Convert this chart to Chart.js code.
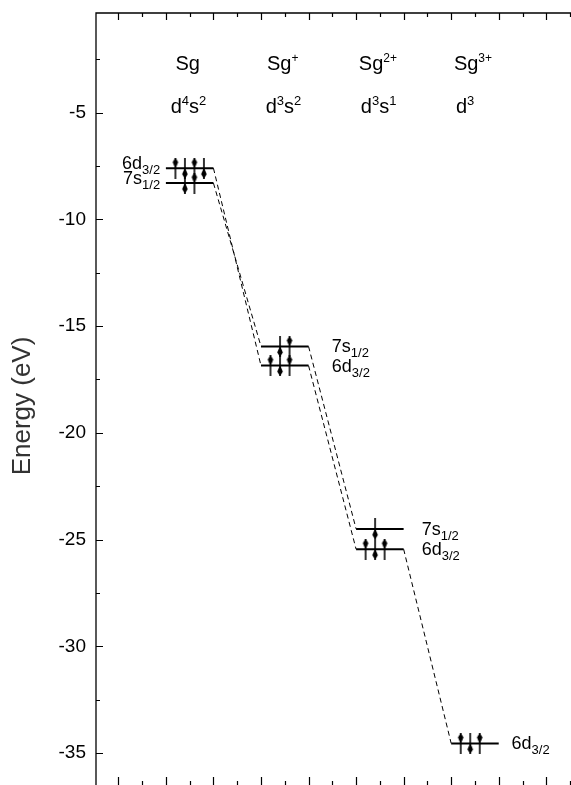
<!DOCTYPE html>
<html><head><meta charset="utf-8">
<script src="https://cdn.jsdelivr.net/npm/chart.js@4/dist/chart.umd.min.js"></script>
<style>html,body{margin:0;padding:0;background:#fff;}canvas{display:block;}</style>
</head><body>
<canvas id="c" width="571" height="785"></canvas>
<script>
// ---------------- data ----------------
const ionNames = ['Sg', 'Sg', 'Sg', 'Sg'];
const ionCharges = ['', '+', '2+', '3+'];
const configD = ['4', '3', '3', '3'];
const configS = ['2', '2', '1', ''];
const columnX = [2, 4, 6, 8];                 // left end of each column's levels
const energy6d = [-7.6, -16.85, -25.45, -34.55];
const energy7s = [-8.3, -15.95, -24.5, null];
const electronColumn  = [0, 0, 0, 0, 0, 0, 1, 1, 1, 1, 1, 2, 2, 2, 2, 3, 3, 3];
const electronOrbital = ['6d','6d','6d','6d','7s','7s','7s','7s','6d','6d','6d','7s','6d','6d','6d','6d','6d','6d'];
const electronSlot    = [1, 2, 3, 4, 2, 3, 2, 3, 1, 2, 3, 2, 1, 2, 3, 1, 2, 3];
const electronSpin    = ['up','down','up','down','down','up','down','up','up','down','up','down','up','down','up','up','down','up'];
const yTickLabelsEvery = 5;     // labelled ticks
const yTickStep = 2.5;          // all ticks
const yAxisTitle = 'Energy (eV)';

// ---------------- layout / style ----------------
const FONT = "'Liberation Sans', Arial, sans-serif";
const X_MIN = 0.53, X_MAX = 10.52;
const Y_MIN = -36.5, Y_MAX = -0.33;
const LEVEL_W = 1;
const SLOT = 0.2;
const labelAnchors = [
  {x: 1.88, align: 'right', dy: -5},
  {x: 5.49, align: 'left', dy: 0},
  {x: 7.38, align: 'left', dy: 0},
  {x: 9.27, align: 'left', dy: 0}
];
const NAME_ROW = -3.0, CONFIG_ROW = -5.0;

function orbitalEnergy(col, orb) { return orb === '6d' ? energy6d[col] : energy7s[col]; }

function makeArrow(up) {
  const c = document.createElement('canvas');
  c.width = 8; c.height = 21;
  const g = c.getContext('2d');
  g.fillStyle = '#000';
  g.fillRect(3.2, 0, 1.6, 21);
  g.beginPath();
  if (up) { g.moveTo(4, 0); g.lineTo(6.8, 4.5); g.lineTo(4, 11); g.lineTo(1.2, 4.5); }
  else { g.moveTo(4, 21); g.lineTo(6.8, 16.5); g.lineTo(4, 10); g.lineTo(1.2, 16.5); }
  g.closePath(); g.fill();
  return c;
}
const arrowUp = makeArrow(true), arrowDown = makeArrow(false);

// ---------------- datasets ----------------
const datasets = [];
// electrons
datasets.push({
  label: 'electrons', order: 0,
  data: electronColumn.map((c, i) => ({x: columnX[c] + electronSlot[i] * SLOT, y: orbitalEnergy(c, electronOrbital[i])})),
  pointStyle: electronSpin.map(s => s === 'up' ? arrowUp : arrowDown),
  pointRadius: 3, showLine: false
});
// levels
[energy6d, energy7s].forEach(arr => {
  arr.forEach((e, c) => {
    if (e === null) return;
    datasets.push({order: 1, data: [{x: columnX[c], y: e}, {x: columnX[c] + LEVEL_W, y: e}],
      showLine: true, borderColor: '#000', borderWidth: 2, pointRadius: 0, borderCapStyle: 'butt'});
  });
});
// dashed connectors
[energy6d, energy7s].forEach(arr => {
  for (let c = 0; c < arr.length - 1; c++) {
    if (arr[c] === null || arr[c + 1] === null) continue;
    datasets.push({order: 2, data: [{x: columnX[c] + LEVEL_W, y: arr[c]}, {x: columnX[c + 1], y: arr[c + 1]}],
      showLine: true, borderColor: '#000', borderWidth: 1, borderDash: [5, 3.5], pointRadius: 0});
  }
});

// ---------------- plugins ----------------
function drawRich(ctx, parts, x, y, align, F, f, supDy, subDy) {
  let total = 0;
  parts.forEach(p => {
    ctx.font = (p.s ? f : F) + 'px ' + FONT;
    p.w = ctx.measureText(p.t).width; total += p.w;
  });
  let cx = align === 'center' ? x - total / 2 : align === 'right' ? x - total : x;
  ctx.textAlign = 'left'; ctx.textBaseline = 'alphabetic';
  parts.forEach(p => {
    ctx.font = (p.s ? f : F) + 'px ' + FONT;
    const dy = p.s === 1 ? supDy : p.s === -1 ? subDy : 0;
    ctx.fillText(p.t, cx, y + dy);
    cx += p.w;
  });
}

const framePlugin = {
  id: 'frame',
  beforeDatasetsDraw(chart) {
    const {ctx, chartArea: a, scales: {x, y}} = chart;
    ctx.save();
    ctx.strokeStyle = '#000'; ctx.lineWidth = 1.3;
    ctx.beginPath();
    ctx.moveTo(a.left, a.bottom); ctx.lineTo(a.left, a.top); ctx.lineTo(a.right, a.top);
    ctx.stroke();
    ctx.lineWidth = 1.2;
    ctx.beginPath();
    for (let v = Math.ceil(Y_MIN / yTickStep) * yTickStep; v <= Y_MAX; v += yTickStep) {
      const py = Math.round(y.getPixelForValue(v)) + 0.5;
      const major = Math.abs(v % yTickLabelsEvery) < 1e-6;
      ctx.moveTo(a.left, py); ctx.lineTo(a.left + (major ? 7 : 4), py);
    }
    for (let v = Math.ceil(X_MIN * 2) / 2; v <= X_MAX; v += 0.5) {
      const px = Math.round(x.getPixelForValue(v)) + 0.5;
      const major = Math.abs(v % 1) < 1e-6;
      ctx.moveTo(px, a.top); ctx.lineTo(px, a.top + (major ? 7 : 4));
      ctx.moveTo(px, a.bottom); ctx.lineTo(px, a.bottom - (major ? 8 : 4));
    }
    ctx.stroke();
    // axis title
    ctx.save();
    ctx.translate(30, 406);
    ctx.rotate(-Math.PI / 2);
    ctx.font = '26px ' + FONT;
    ctx.fillStyle = '#333';
    ctx.textAlign = 'center'; ctx.textBaseline = 'alphabetic';
    ctx.fillText(yAxisTitle, 0, 0);
    ctx.restore();
    ctx.restore();
  },
  afterDatasetsDraw(chart) {
    const {ctx, scales: {x, y}} = chart;
    ctx.save();
    ctx.fillStyle = '#000';
    // headers
    ionNames.forEach((n, c) => {
      const cxp = x.getPixelForValue(columnX[c] + LEVEL_W / 2) - 2;
      const parts = [{t: n, s: 0}];
      if (ionCharges[c]) parts.push({t: ionCharges[c], s: 1});
      drawRich(ctx, parts, cxp, y.getPixelForValue(NAME_ROW), 'center', 20, 12, -8, 4);
      const cp = [{t: 'd', s: 0}, {t: configD[c], s: 1}];
      if (configS[c]) { cp.push({t: 's', s: 0}); cp.push({t: configS[c], s: 1}); }
      drawRich(ctx, cp, x.getPixelForValue(columnX[c] + 0.1), y.getPixelForValue(CONFIG_ROW), 'left', 20, 13, -8, 4);
    });
    // orbital labels
    [['6d', '3/2', energy6d], ['7s', '1/2', energy7s]].forEach(([main, sub, arr]) => {
      arr.forEach((e, c) => {
        if (e === null) return;
        const an = labelAnchors[c];
        const py = y.getPixelForValue(e) + an.dy + 6;
        drawRich(ctx, [{t: main, s: 0}, {t: sub, s: -1}], x.getPixelForValue(an.x), py, an.align, 18, 13, -7, 5);
      });
    });
    ctx.restore();
  }
};

new Chart(document.getElementById('c'), {
  type: 'scatter',
  data: {datasets},
  options: {
    responsive: false, animation: false, devicePixelRatio: 1,
    layout: {autoPadding: false, padding: {top: 13, right: 0, bottom: 0, left: 0}},
    plugins: {legend: {display: false}, tooltip: {enabled: false}},
    scales: {
      x: {type: 'linear', min: X_MIN, max: X_MAX, display: false},
      y: {
        type: 'linear', min: Y_MIN, max: Y_MAX,
        afterFit: s => { s.width = 96; s.paddingTop = 0; s.paddingBottom = 0; },
        grid: {display: false, drawTicks: false}, border: {display: false},
        ticks: {stepSize: yTickStep, includeBounds: false, padding: 10, color: '#000', autoSkip: false,
          font: {family: FONT, size: 19},
          callback: v => (Math.abs(v % yTickLabelsEvery) < 1e-6 ? String(v) : '')},
        title: {display: false, text: yAxisTitle}
      }
    }
  },
  plugins: [framePlugin]
});
</script>
</body></html>
